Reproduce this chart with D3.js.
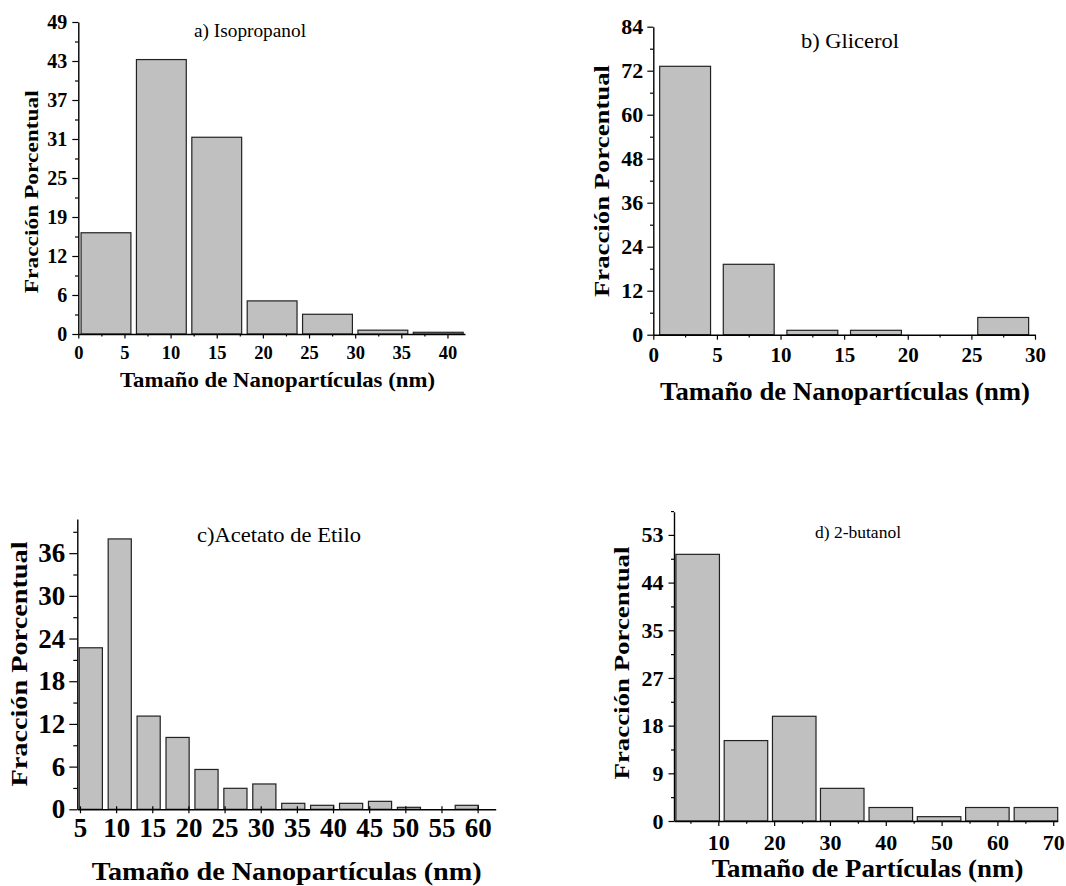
<!DOCTYPE html>
<html>
<head>
<meta charset="utf-8">
<script src="https://cdn.jsdelivr.net/npm/d3@7"></script>
<style>
body { margin: 0; background: #fff; }
</style>
</head>
<body>
<script>
// a) Isopropanol
const isoBins = [3, 9, 15, 21, 27, 33, 39];
const isoValues = [15.9, 43.1, 30.9, 5.2, 3.1, 0.6, 0.27];
const isoYLabels = ["0", "6", "12", "19", "25", "31", "37", "43", "49"];
const isoXTicks = [0, 5, 10, 15, 20, 25, 30, 35, 40];

// b) Glicerol
const gliBins = [2.5, 7.5, 12.5, 17.5, 22.5, 27.5];
const gliValues = [73.2, 19.2, 1.2, 1.2, 0, 4.7];
const gliYLabels = ["0", "12", "24", "36", "48", "60", "72", "84"];
const gliXTicks = [0, 5, 10, 15, 20, 25, 30];

// c) Acetato de Etilo
const aceBins = [6.5, 10.5, 14.5, 18.5, 22.5, 26.5, 30.5, 34.5, 38.5, 42.5, 46.5, 50.5, 54.5, 58.5];
const aceValues = [22.7, 38.0, 13.1, 10.1, 5.6, 2.95, 3.56, 0.84, 0.56, 0.84, 1.12, 0.28, 0, 0.56];
const aceYLabels = ["0", "6", "12", "18", "24", "30", "36"];
const aceXTicks = [5, 10, 15, 20, 25, 30, 35, 40, 45, 50, 55, 60];

// d) 2-butanol
const butBins = [6.3, 14.95, 23.6, 32.2, 40.9, 49.55, 58.2, 66.9];
const butValues = [49.4, 14.9, 19.4, 6.05, 2.5, 0.8, 2.5, 2.5];
const butYLabels = ["0", "9", "18", "27", "35", "44", "53"];
const butXTicks = [10, 20, 30, 40, 50, 60, 70];

const serif = '"Liberation Serif", "Times New Roman", serif';

const panels = [
    { title: "a) Isopropanol", bins: isoBins, values: isoValues, yLabels: isoYLabels, xTicks: isoXTicks,
      barWidth: 5.4, xDomain: [0, 41.9], xRange: [78.3, 465], yDomain: [0, 49], yRange: [334, 22], yTickMax: 49,
      xMinor: 2.5, yTick: [6, 3.3], yPad: 5, yFont: 20, xTick: [4.5, 2.5], xPad: 7.7, xFont: 18.5, xCross: 0,
      titleFont: 18, titleLen: 112, titleX: 250, titleY: 37,
      ylFont: 19.7, ylLen: 203, ylX: 38.4, ylY: 191.7,
      xlText: "Tamaño de Nanopartículas (nm)", xlFont: 22, xlLen: 315, xlX: 277.5, xlY: 387 },
    { title: "b) Glicerol", bins: gliBins, values: gliValues, yLabels: gliYLabels, xTicks: gliXTicks,
      barWidth: 4, xDomain: [0, 30], xRange: [653.3, 1035], yDomain: [0, 84], yRange: [334.7, 26.7], yTickMax: 84,
      xMinor: 2.5, yTick: [6, 3.3], yPad: 4, yFont: 22, xTick: [5, 2.7], xPad: 7.1, xFont: 21, xCross: 0,
      titleFont: 22, titleLen: 98, titleX: 850, titleY: 48,
      ylFont: 20.3, ylLen: 232, ylX: 608.9, ylY: 181,
      xlText: "Tamaño de Nanopartículas (nm)", xlFont: 25, xlLen: 370, xlX: 845, xlY: 399.5 },
    { title: "c)Acetato de Etilo", bins: aceBins, values: aceValues, yLabels: aceYLabels, xTicks: aceXTicks,
      barWidth: 3.2, xDomain: [4.63, 62.5], xRange: [77.3, 495.7], yDomain: [0, 40.8], yRange: [809.3, 519], yTickMax: 36,
      xMinor: 0, yTick: [8, 4], yPad: 4, yFont: 27, xTick: [4, 0], xPad: 4.2, xFont: 27, xCross: 3,
      titleFont: 22, titleLen: 164, titleX: 279, titleY: 541.7,
      ylFont: 22.2, ylLen: 245, ylX: 26.8, ylY: 664,
      xlText: "Tamaño de Nanopartículas (nm)", xlFont: 25, xlLen: 390, xlX: 286.7, xlY: 880 },
    { title: "d) 2-butanol", bins: butBins, values: butValues, yLabels: butYLabels, xTicks: butXTicks,
      barWidth: 7.8, xDomain: [2.06, 70.8], xRange: [674, 1057.7], yDomain: [0, 57.3], yRange: [821, 511.7], yTickMax: 53,
      xMinor: 5, yTick: [5.5, 3], yPad: 5, yFont: 22, xTick: [5, 2.7], xPad: 8.4, xFont: 22, xCross: 0,
      titleFont: 17.5, titleLen: 86, titleX: 858, titleY: 537.7,
      ylFont: 21, ylLen: 233, ylX: 629.4, ylY: 663,
      xlText: "Tamaño de Partículas (nm)", xlFont: 26, xlLen: 311.7, xlX: 867.5, xlY: 876.7 }
];

const svg = d3.select("body").append("svg")
    .attr("width", 1066)
    .attr("height", 886);

svg.append("rect").attr("width", 1066).attr("height", 886).attr("fill", "#fff");

function styleAxis(sel, font) {
    sel.attr("font-family", serif).attr("font-size", font).attr("font-weight", "bold");
    sel.select(".domain").attr("stroke", "#000").attr("stroke-width", 1.4);
    sel.selectAll(".tick line").attr("stroke", "#000").attr("stroke-width", 1.2);
    sel.selectAll(".tick text").attr("fill", "#000");
}

function drawPanel(p) {
    const x = d3.scaleLinear().domain(p.xDomain).range(p.xRange);
    const y = d3.scaleLinear().domain(p.yDomain).range(p.yRange);
    const g = svg.append("g");

    // bars
    g.selectAll("rect.bar")
        .data(p.bins.map((b, i) => ({ b: b, v: p.values[i] })))
        .enter()
        .append("rect")
        .attr("class", "bar")
        .attr("x", d => x(d.b - p.barWidth / 2))
        .attr("width", d => x(d.b + p.barWidth / 2) - x(d.b - p.barWidth / 2))
        .attr("y", d => y(d.v))
        .attr("height", d => y(0) - y(d.v))
        .attr("fill", "#c0c0c0")
        .attr("stroke", "#222")
        .attr("stroke-width", 1.2);

    // y axis
    const n = p.yLabels.length - 1;
    const step = p.yTickMax / n;
    const yMajor = p.yLabels.map((l, i) => step * i);
    const yMinor = d3.range(step / 2, p.yDomain[1] + 0.3, step);

    g.append("g")
        .attr("transform", `translate(${p.xRange[0]},0)`)
        .call(d3.axisLeft(y).tickValues(yMinor).tickFormat("").tickSize(p.yTick[1]))
        .call(s => s.select(".domain").remove())
        .call(s => styleAxis(s, p.yFont));

    g.append("g")
        .attr("transform", `translate(${p.xRange[0]},0)`)
        .call(d3.axisLeft(y).tickValues(yMajor).tickFormat((d, i) => p.yLabels[i])
            .tickSizeInner(p.yTick[0]).tickSizeOuter(0).tickPadding(p.yPad))
        .call(s => styleAxis(s, p.yFont));

    // x axis
    if (p.xMinor > 0) {
        const xMinor = d3.range(p.xTicks[0] - p.xMinor, p.xDomain[1], p.xMinor * 2)
            .filter(v => v > p.xDomain[0] && v < p.xDomain[1]);
        g.append("g")
            .attr("transform", `translate(0,${p.yRange[0]})`)
            .call(d3.axisBottom(x).tickValues(xMinor).tickFormat("").tickSize(p.xTick[1]))
            .call(s => s.select(".domain").remove())
            .call(s => styleAxis(s, p.xFont));
    }

    const xAx = g.append("g")
        .attr("transform", `translate(0,${p.yRange[0]})`)
        .call(d3.axisBottom(x).tickValues(p.xTicks).tickFormat(d3.format("d"))
            .tickSizeInner(p.xTick[0]).tickSizeOuter(0).tickPadding(p.xPad))
        .call(s => styleAxis(s, p.xFont));
    if (p.xCross) xAx.selectAll(".tick line").attr("y1", -p.xCross);

    // panel title
    g.append("text")
        .attr("x", p.titleX)
        .attr("y", p.titleY)
        .attr("text-anchor", "middle")
        .attr("font-family", serif)
        .attr("font-size", p.titleFont)
        .attr("textLength", p.titleLen)
        .attr("lengthAdjust", "spacingAndGlyphs")
        .text(p.title);

    // y label
    g.append("text")
        .attr("transform", `translate(${p.ylX},${p.ylY}) rotate(-90)`)
        .attr("text-anchor", "middle")
        .attr("font-family", serif)
        .attr("font-weight", "bold")
        .attr("font-size", p.ylFont)
        .attr("textLength", p.ylLen)
        .attr("lengthAdjust", "spacingAndGlyphs")
        .text("Fracción Porcentual");

    // x label
    g.append("text")
        .attr("x", p.xlX)
        .attr("y", p.xlY)
        .attr("text-anchor", "middle")
        .attr("font-family", serif)
        .attr("font-weight", "bold")
        .attr("font-size", p.xlFont)
        .attr("textLength", p.xlLen)
        .attr("lengthAdjust", "spacingAndGlyphs")
        .text(p.xlText);
}

panels.forEach(drawPanel);
</script>
</body>
</html>
